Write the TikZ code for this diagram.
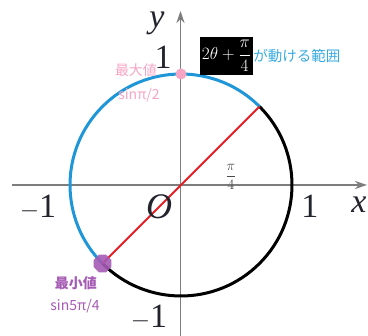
\documentclass[tikz,border=0pt]{standalone}
\usepackage{fontspec}
\setmainfont{Liberation Serif}
\newfontfamily\cjk{Noto Sans CJK JP}
\usetikzlibrary{arrows.meta,shapes.geometric}
\definecolor{axisgray}{RGB}{125,125,125}
\definecolor{arcblue}{RGB}{30,150,215}
\definecolor{txtblue}{RGB}{55,170,225}
\definecolor{pinkc}{RGB}{245,165,195}
\definecolor{purplec}{RGB}{165,90,180}
\definecolor{redc}{RGB}{230,30,35}
\definecolor{labelc}{RGB}{35,35,45}
\tikzset{
  axis/.style={draw=axisgray,line width=1.4pt,-{Stealth[length=12pt,width=8pt]}},
  bigl/.style={text=labelc,font=\fontsize{34}{34}\selectfont,inner sep=0pt},
  bluearc/.style={draw=arcblue,line width=3pt},
  blackarc/.style={draw=black,line width=3pt},
  redline/.style={draw=redc,line width=2pt},
  jp/.style={font=\cjk\fontsize{14}{14}\selectfont,inner sep=0pt},
}
\begin{document}
\begin{tikzpicture}[x=1pt,y=1pt]
\useasboundingbox (0,0) rectangle (368,336);
\coordinate (C) at (181,151);
\coordinate (xs) at (12,151);
\coordinate (xe) at (367,151);
\coordinate (ys) at (180.5,0);
\coordinate (ye) at (180.5,325);
\draw[axis] (xs) -- (xe);
\draw[axis] (ys) -- (ye);
\coordinate (P) at ([shift={(45:111)}]C);
\coordinate (Q) at ([shift={(225:111)}]C);
\coordinate (T) at ([shift={(90:111)}]C);
\draw[blackarc] (Q) arc[start angle=225,end angle=405,radius=111];
\draw[bluearc] (P) arc[start angle=45,end angle=225,radius=111];
\draw[redline] (Q) -- (P);
\node[circle,fill=pinkc,minimum size=11pt,inner sep=0pt] (maxdot) at (T) {};
\node[regular polygon,regular polygon sides=8,fill=purplec,minimum size=19pt,inner sep=0pt,opacity=0.9] (mindot) at (Q) {};
% axis labels
\node[bigl,font=\fontsize{34}{34}\selectfont\itshape] (ylab) at (157,313) {y};
\node[bigl] (one1) at (163,279) {1};
\node[bigl] (onex) at (310,130) {1};
\node[bigl] (mone1) at (38,129) {$-$1};
\node[bigl] (mone2) at (149,19) {$-$1};
\node[bigl,font=\fontsize{36}{36}\selectfont\itshape] (olab) at (159,129) {O};
\node[bigl,font=\fontsize{34}{34}\selectfont\itshape] (xlab) at (359,131) {x};
\node[text=axisgray!60!black,inner sep=0pt,font=\fontsize{15}{15}\selectfont] (pi4) at (231,159) {$\displaystyle\frac{\pi}{4}$};
% box
\node[fill=black,text=white,minimum width=53pt,minimum height=38pt,inner sep=0pt,font=\fontsize{17.5}{17.5}\selectfont] (box) at (226.5,280) {$\displaystyle 2\theta+\frac{\pi}{4}$};
\node[jp,anchor=west,text=txtblue,font=\cjk\fontsize{14.5}{14.5}\selectfont] (range) at (box.east) {が動ける範囲};
\node[jp,text=pinkc] (maxl) at (136,266) {最大値};
\node[jp,text=pinkc] (maxv) at (139,241) {sinπ/2};
\node[jp,text=purplec,font=\cjk\bfseries\fontsize{14}{14}\selectfont] (minl) at (76,53) {最小値};
\node[jp,text=purplec] (minv) at (75,30) {sin5π/4};
\end{tikzpicture}
\end{document}
